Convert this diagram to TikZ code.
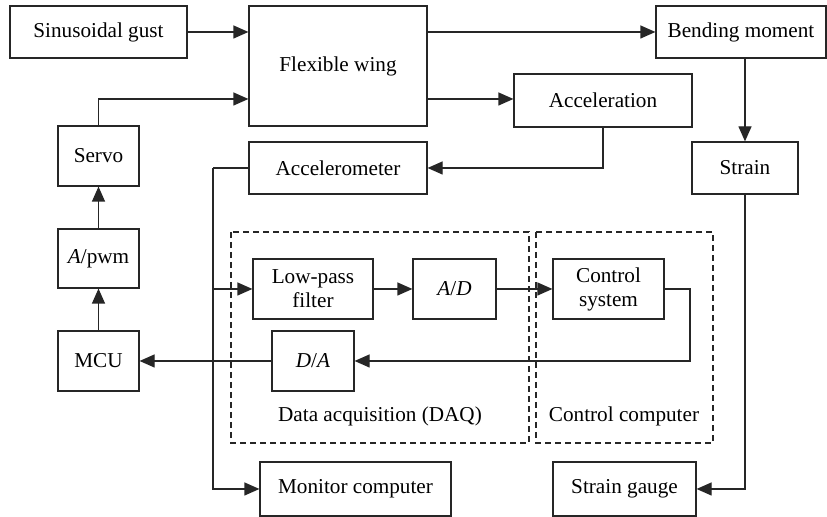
\documentclass[tikz,border=0pt]{standalone}
\usepackage{fontspec}
\setmainfont{Liberation Serif}
\usetikzlibrary{arrows.meta, calc, positioning}
\tikzset{>={Triangle[length=7.5pt,width=6.5pt]}}
\tikzset{
  block/.style={rectangle, draw=black!85, line width=0.6pt, align=center, inner sep=0pt, font=\fontsize{10.6}{12}\selectfont},
  group/.style={dashed, line width=0.6pt, draw=black!85, dash pattern=on 3pt off 2pt},
  arrow/.style={->, line width=0.6pt, draw=black!85},
  line/.style={line width=0.6pt, draw=black!85},
  grouplabel/.style={draw=none, font=\fontsize{10.6}{12}\selectfont}
}

\begin{document}
\begin{tikzpicture}[x=0.5pt, y=-0.5pt]
\useasboundingbox (0,0) rectangle (827,517);

% plant side
\node[block, minimum width=88.5pt, minimum height=26pt] (gust) at (98.5,32) {Sinusoidal gust};
\node[block, minimum width=89pt, minimum height=60pt] (wing) at (338,66) {Flexible wing};
\node[block, minimum width=85pt, minimum height=26pt] (bend) at (741,32) {Bending moment};
\node[block, minimum width=89pt, minimum height=26.5pt] (accel) at (603,100.5) {Acceleration};
\node[block, minimum width=89pt, minimum height=26pt] (acmeter) at (338,168) {Accelerometer};
\node[block, minimum width=53pt, minimum height=26pt] (strain) at (745,168) {Strain};

% actuator chain
\node[block, minimum width=40.5pt, minimum height=30pt] (servo) at (98.5,156) {Servo};
\node[block, minimum width=40.5pt, minimum height=29.5pt] (apwm) at (98.5,258.5) {\textit{A}/pwm};
\node[block, minimum width=40.5pt, minimum height=30pt] (mcu) at (98.5,361) {MCU};

% DAQ and control computer
\node[block, minimum width=60pt, minimum height=30pt] (lpf) at (313,289) {Low-pass\\filter};
\node[block, minimum width=41.5pt, minimum height=30pt] (ad) at (454.5,289) {\textit{A}/\textit{D}};
\node[block, minimum width=55.5pt, minimum height=30pt] (ctrl) at (608.5,289) {Control\\system};
\node[block, minimum width=41pt, minimum height=30pt] (da) at (313,361) {\textit{D}/\textit{A}};

\draw[group] (231,232) rectangle (529,443);
\draw[group] (536,232) rectangle (713,443);
\node[grouplabel] (daqlabel) at (380,416) {Data acquisition (DAQ)};
\node[grouplabel] (cclabel) at (624,416) {Control computer};

% outputs
\node[block, minimum width=95.5pt, minimum height=27pt] (monitor) at (355.5,489) {Monitor computer};
\node[block, minimum width=71.5pt, minimum height=27pt] (gauge) at (624.5,489) {Strain gauge};

\coordinate (bus) at (213,168);
\coordinate (ret) at (690,361);

% connectors
\draw[arrow] (gust.east) -- (gust.east -| wing.west);
\draw[arrow] (servo.north) |- ([yshift=-16.5pt]wing.west);
\draw[arrow] (wing.east |- bend) -- (bend.west);
\draw[arrow] (wing.east |- 0,99) -- (accel.west |- 0,99);
\draw[arrow] (accel.south) |- (acmeter.east);
\draw[arrow] (strain.north |- bend.south) -- (strain.north);
\draw[arrow] (strain.south) |- (gauge.east);
\draw[line] (acmeter.west) -- (bus);
\draw[arrow] (bus) |- (monitor.west);
\draw[arrow] (bus |- lpf) -- (lpf.west);
\draw[arrow] (lpf.east) -- (ad.west);
\draw[arrow] (ad.east) -- (ctrl.west);
\draw[arrow] (ctrl.east) -| (ret) -- (da.east);
\draw[arrow] (da.west) -- (mcu.east);
\draw[arrow] (mcu.north) -- (apwm.south);
\draw[arrow] (apwm.north) -- (servo.south);

\end{tikzpicture}
\end{document}
